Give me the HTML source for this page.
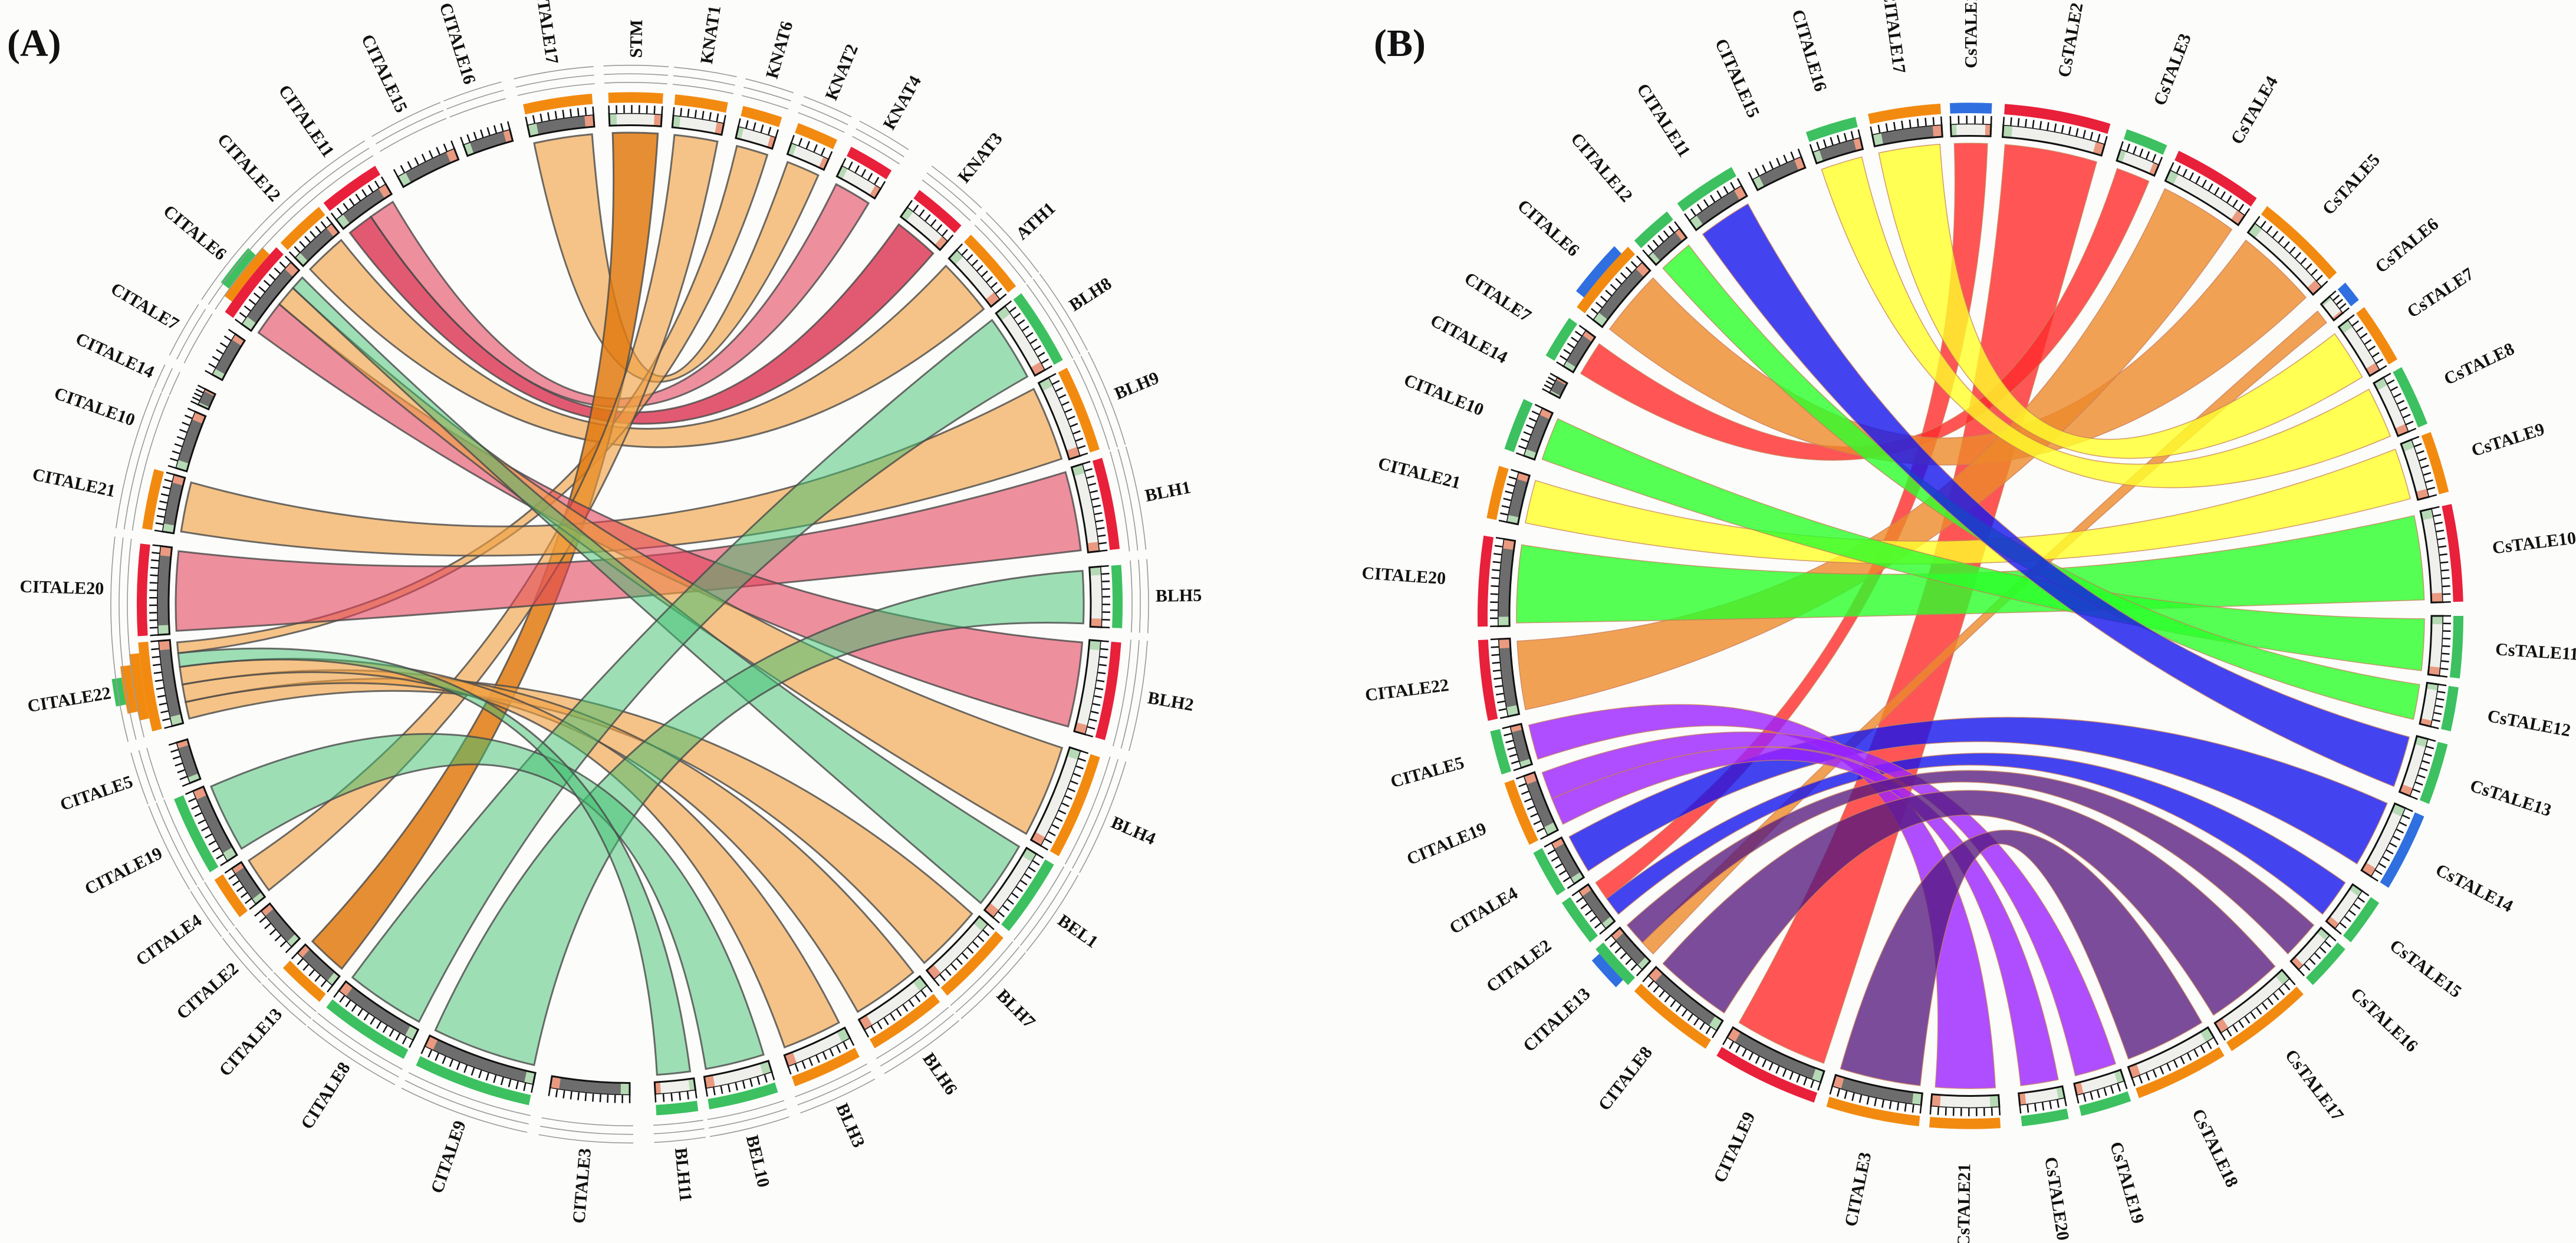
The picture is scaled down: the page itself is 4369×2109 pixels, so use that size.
<!DOCTYPE html>
<html><head><meta charset="utf-8"><title>TALE chord diagrams</title>
<style>
html,body{margin:0;padding:0;background:#fcfcfa;}
svg{display:block;}
text{font-family:"Liberation Serif",serif;font-weight:bold;fill:#111;}
</style></head>
<body>
<svg id="chart" width="4369" height="2109" viewBox="0 0 4369 2109" xmlns="http://www.w3.org/2000/svg">
<rect x="0" y="0" width="4369" height="2109" fill="#fcfcfa"/>
<text x="12" y="95" font-size="66">(A)</text>
<text x="2330" y="95" font-size="66">(B)</text>
<g id="gA"></g>
<g id="gB"></g>
</svg>
<script>
// ---------- Panel A data ----------
const segNamesA = ["STM","KNAT1","KNAT6","KNAT2","KNAT4","KNAT3","ATH1","BLH8","BLH9","BLH1","BLH5","BLH2","BLH4","BEL1","BLH7","BLH6","BLH3","BEL10","BLH11",
"CITALE3","CITALE9","CITALE8","CITALE13","CITALE2","CITALE4","CITALE19","CITALE5","CITALE22","CITALE20","CITALE21","CITALE10","CITALE14","CITALE7","CITALE6","CITALE12","CITALE11","CITALE15","CITALE16","CITALE17"];
const segStartA = [-2.5,5.3,13.3,20,26.7,36,43.8,52.6,62.5,73.4,85.6,94.3,107.4,120.6,130.7,141,152.2,162.5,172,
180,191.8,207.3,219,225.7,232.3,238.4,248.6,255.6,266.4,278.5,286.1,294,297.9,304.8,314.9,321.6,330.6,339.4,347.5];
const segEndA = [3.9,11.5,18,24.9,32.1,42.3,51.6,61.5,72.4,83.8,92.7,105.4,119.5,129.7,139.9,150.2,160.4,170.7,176.9,
189.7,205.7,218,224.7,231.3,237.4,247.6,253.6,265.7,276.8,285.3,293.1,296,303.4,314.2,320.9,328.9,338.2,345.3,355.6];
const segBandA = ["o","o","o","o","r","r","o","g","o","r","g","r","o","g","o","o","o","g","g",
"","g","g","o","","o","g","","o+o+o+g","r","o","","","","r+o+g","o","r","","","o"];
const linkSrcA = ["CITALE11","CITALE11","CITALE12","CITALE17","CITALE22","CITALE13","CITALE4","CITALE21","CITALE20","CITALE6","CITALE6","CITALE6","CITALE22","CITALE22","CITALE22","CITALE9","CITALE8","CITALE19","CITALE22"];
const linkTgtA = ["KNAT3","KNAT4","ATH1","KNAT2","KNAT6","STM","KNAT1","BLH9","BLH1","BLH2","BLH4","BEL1","BLH7","BLH6","BLH3","BLH5","BLH8","BEL10","BLH11"];
const linkSrcFromA = [0,0.5,0,0,0.86,0,0,0,0,0,0.5,0.8,0,0.22,0.45,0,0,0,0.68];
const linkSrcToA   = [0.5,1,1,1,1,1,1,1,1,0.5,0.8,1,0.22,0.45,0.68,1,1,1,0.86];
const linkColorA = ["red","pink","orange","orange","orange","darkorange","orange","orange","pink","pink","orange","green","orange","orange","orange","green","green","green","green"];

// ---------- Panel B data ----------
const segNamesB = ["CsTALE1","CsTALE2","CsTALE3","CsTALE4","CsTALE5","CsTALE6","CsTALE7","CsTALE8","CsTALE9","CsTALE10","CsTALE11","CsTALE12","CsTALE13","CsTALE14","CsTALE15","CsTALE16","CsTALE17","CsTALE18","CsTALE19","CsTALE20","CsTALE21",
"CITALE3","CITALE9","CITALE8","CITALE13","CITALE2","CITALE4","CITALE19","CITALE5","CITALE22","CITALE20","CITALE21","CITALE10","CITALE14","CITALE7","CITALE6","CITALE12","CITALE11","CITALE15","CITALE16","CITALE17"];
const segStartB = [-2.4,4,18.5,25,37,49.5,53,61,69,77.4,90,98,104.5,113,124,130.5,137.5,149,161,168.5,176.5,
186,198.5,212.5,224,230.5,237,243.5,252,258.2,268.8,281,289,297,300.5,307,317,323.5,332.5,340.5,348];
const segEndB = [2.5,16.5,23.5,35.5,48,52,60,68,76,88.4,97,103,111.5,122,129.5,136,148,160,167,174,184.8,
197,211,223,229.5,236,242.5,251,257,267.3,279,287,295,299,305.5,316,322,331,339,346.5,356.5];
const segBandB = ["b","r","g","r","o","b","o","g","o","r","g","g","g","b","g","g","o","o","g","g","o",
"o","r","o","g+b","g","g","o","g","r","r","o","g","","g","o+b","g","g","","g","o"];
const linkSrcB = ["CITALE2","CITALE9","CITALE7","CITALE6","CITALE22","CITALE13","CITALE17","CITALE16","CITALE21","CITALE20","CITALE10","CITALE12","CITALE11","CITALE4","CITALE2","CITALE5","CITALE19","CITALE19","CITALE13","CITALE8","CITALE3"];
const linkTgtB = ["CsTALE1","CsTALE2","CsTALE3","CsTALE5","CsTALE4","CsTALE6","CsTALE7","CsTALE8","CsTALE9","CsTALE10","CsTALE11","CsTALE12","CsTALE13","CsTALE14","CsTALE15","CsTALE21","CsTALE20","CsTALE19","CsTALE16","CsTALE17","CsTALE18"];
const linkSrcFromB = [0.5,0,0,0,0,0,0,0,0,0,0,0,0,0,0,0,0,0.5,0.4,0,0];
const linkSrcToB   = [1,1,1,1,1,0.4,1,1,1,1,1,1,1,1,0.5,1,0.5,1,1,1,1];
const linkColorB = ["red","red","red","orange","orange","orange","yellow","yellow","yellow","green","green","green","blue","blue","blue","violet","violet","violet","purple","purple","purple"];

// ---------- styles ----------
const bandColors = {o:"#f28a10", r:"#e8203a", g:"#3cc060", b:"#2f6fe0"};
const ribbonA = {red:["#d81c3c",0.72], pink:["#e2405a",0.58], orange:["#f0a040",0.62], darkorange:["#e07a10",0.85], green:["#40c070",0.5]};
const ribbonB = {red:["#ff2a2a",0.8], orange:["#ee8a2a",0.8], yellow:["#ffff2a",0.8], green:["#2aff2a",0.8], blue:["#1414ee",0.8], violet:["#9a22ff",0.8], purple:["#55197f",0.78]};

const NS = "http://www.w3.org/2000/svg";
function mk(tag, parent, attrs){ const e=document.createElementNS(NS,tag); for(const k in attrs) e.setAttribute(k,attrs[k]); parent.appendChild(e); return e; }

function drawChord(g, geo, names, starts, ends, bands, lSrc, lTgt, lFrom, lTo, lCol, pal, thinArcs, stroke, strokeW){
  const k = geo.ry/geo.rx;
  const P = (r,a)=>{ const t=a*Math.PI/180; return [geo.cx + r*Math.sin(t), geo.cy - r*k*Math.cos(t)]; };
  const pt = p=>p[0].toFixed(1)+" "+p[1].toFixed(1);
  const arcTo=(r,a0,a1,sweep)=>"A "+r+" "+(r*k).toFixed(1)+" 0 "+(Math.abs(a1-a0)>180?1:0)+" "+sweep+" "+pt(P(r,a1));
  const sector=(r0,r1,a0,a1)=>"M "+pt(P(r1,a0))+" "+arcTo(r1,a0,a1,1)+" L "+pt(P(r0,a1))+" "+arcTo(r0,a1,a0,0)+" Z";
  const idx = n=>names.indexOf(n);
  const R = 770, inset = 0.35;
  // ribbons
  const rg = mk("g", g, {});
  
  
  for(let i=0;i<lSrc.length;i++){
    const s=idx(lSrc[i]), t=idx(lTgt[i]);
    const sa=starts[s]+inset, sb=ends[s]-inset, ta=starts[t]+inset, tb=ends[t]-inset;
    const s0=sa+(sb-sa)*lFrom[i], s1=sa+(sb-sa)*lTo[i];
    const c=pal[lCol[i]];
    const ctr=geo.cx+" "+geo.cy;
    const d="M "+pt(P(R,s0))+" "+arcTo(R,s0,s1,1)+" Q "+ctr+" "+pt(P(R,ta))+" "+arcTo(R,ta,tb,1)+" Q "+ctr+" "+pt(P(R,s0))+" Z";
    const p = mk("path", rg, {d:d, fill:c[0], "fill-opacity":c[1], stroke:stroke||c[0], "stroke-width":strokeW, "stroke-opacity":0.8});
    
    
  }
  // segments
  for(let i=0;i<names.length;i++){
    const a0=starts[i], a1=ends[i], sp=a1-a0;
    const sg = mk("g", g, {});
    
    
    const dark = names[i].indexOf("CITALE")===0;
    mk("path", sg, {d:sector(782,802,a0,a1), fill: dark?"#6d6d6d":"#efefec"});
    const cap = Math.min(0.14*sp, 1.1);
    mk("path", sg, {d:sector(782,802,a0,a0+cap), fill:"#b5dab5"});
    mk("path", sg, {d:sector(782,802,a1-cap,a1), fill:"#e99a80"});
    mk("path", sg, {d:sector(782,802,a0,a1), fill:"none", stroke:"#111", "stroke-width":3});
    mk("path", sg, {d:sector(802,814,a0,a1), fill:"#fff", stroke:"none"});
    const nt = Math.max(4, Math.round(sp/0.9));
    let td="";
    for(let j=0;j<=nt;j++){ const a=a0+sp*j/nt; td+="M "+pt(P(802,a))+" L "+pt(P(815,a))+" "; }
    mk("path", sg, {d:td, stroke:"#111", "stroke-width":2.5, fill:"none"});
    // bands
    if(bands[i]){
      const layers=bands[i].split("+");
      layers.forEach((c,li)=>{
        const f = li===0?0:0.1*li+0.05;
        const b0=a0+sp*f, b1=a1-sp*(li===0?0:0.12*li);
        const bd = mk("path", sg, {d:sector(819+li*17,836+li*17,b0,b1), fill:bandColors[c]});
        
        
      });
    }
    if(thinArcs){
      [852,866,880].forEach(r=>{ mk("path", sg, {d:"M "+pt(P(r,a0-0.4))+" "+arcTo(r,a0-0.4,a1+0.4,1), fill:"none", stroke:"#9a9a9a", "stroke-width":1.6}); });
    }
    // label
    const am=(a0+a1)/2, norm=((am%360)+360)%360;
    const lp=P(892,am);
    const right = norm<180;
    const rot = right? am-90 : am+90;
    const tx = mk("text", sg, {x:lp[0].toFixed(1), y:lp[1].toFixed(1), "font-size":30, "text-anchor": right?"start":"end", "dominant-baseline":"central", transform:"rotate("+rot.toFixed(1)+" "+lp[0].toFixed(1)+" "+lp[1].toFixed(1)+")"});
    tx.textContent = names[i];
    
    
  }
}
drawChord(document.getElementById("gA"), {cx:1068, cy:1025, rx:770, ry:800}, segNamesA, segStartA, segEndA, segBandA, linkSrcA, linkTgtA, linkSrcFromA, linkSrcToA, linkColorA, ribbonA, true, "#4a4a4a", 3);
drawChord(document.getElementById("gB"), {cx:3342, cy:1045, rx:770, ry:802}, segNamesB, segStartB, segEndB, segBandB, linkSrcB, linkTgtB, linkSrcFromB, linkSrcToB, linkColorB, ribbonB, false, "#c9805a", 1.5);
</script>
</body></html>
